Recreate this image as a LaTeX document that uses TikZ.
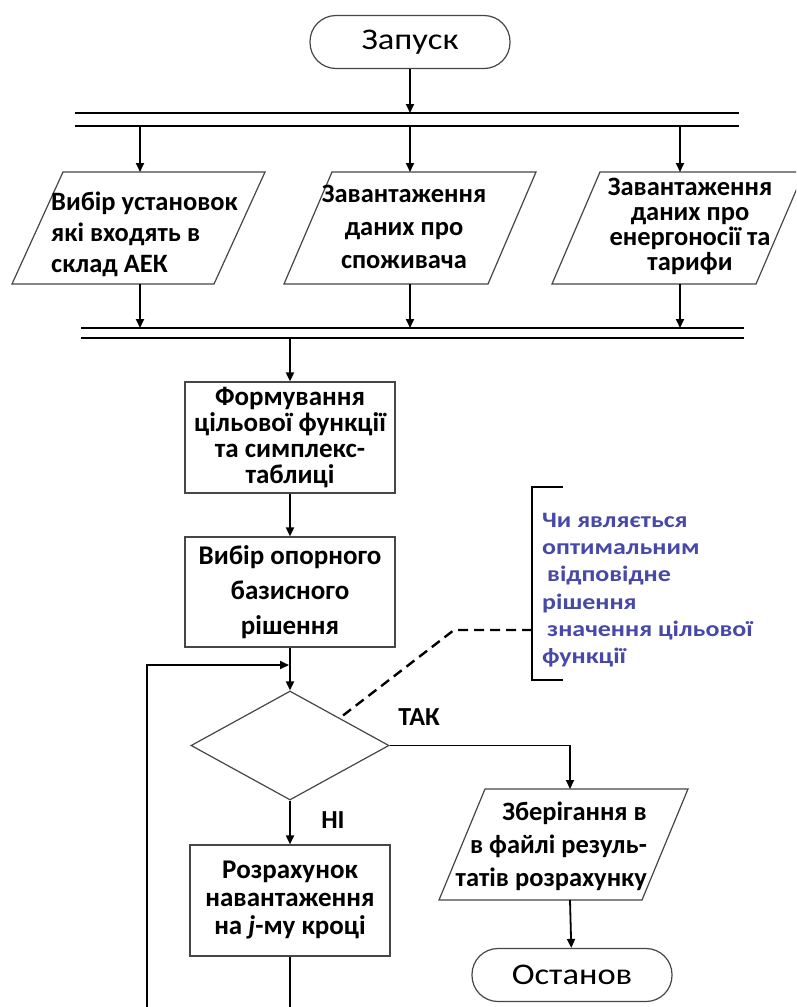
\documentclass[tikz,border=0pt]{standalone}
\usepackage{fontspec}
\setmainfont{Carlito}
\newfontfamily\termfont{Carlito}[FakeStretch=1.15]
\newfontfamily\annfont{Carlito}[FakeStretch=1.18]
\usetikzlibrary{arrows.meta,shapes.geometric}
\definecolor{annblue}{RGB}{72,72,168}
\definecolor{edgegray}{RGB}{70,70,70}
\begin{document}
\begin{tikzpicture}[x=1pt,y=-1pt,
  conn/.style={line width=1.8pt,-{Triangle[length=9pt,width=8pt]}},
  plain/.style={line width=1.8pt},
  barline/.style={line width=2.8pt},
  shapeedge/.style={draw=edgegray,line width=1.2pt},
  term/.style={shapeedge,rounded corners=26pt,minimum width=200pt,minimum height=53pt,inner sep=0pt,font=\termfont\fontsize{30}{34}\selectfont},
  procbox/.style={shapeedge,inner sep=0pt,align=center,font=\fontsize{27}{26}\selectfont\bfseries},
  ptext/.style={inner sep=0pt,font=\fontsize{26.5}{31}\selectfont\bfseries},
  decision/.style={shapeedge,diamond,aspect=1.82,minimum width=198pt,minimum height=109pt,inner sep=0pt},
  lbl/.style={inner sep=0pt,font=\fontsize{26}{28}\selectfont\bfseries},
  ann/.style={inner sep=0pt,align=left,text=annblue,font=\annfont\fontsize{22}{27.2}\selectfont\bfseries},
  brk/.style={line width=2.2pt},
  dashline/.style={line width=2.4pt,dash pattern=on 10pt off 6pt}
]
\useasboundingbox (0,0) rectangle (796,1007);
\clip (0,0) rectangle (796,1007);
\fill[white] (0,0) rectangle (796,1007);

% start
\node[term] (start) at (410,42) {Запуск};

% top double bar
\coordinate (b1a) at (410,113);
\coordinate (b1l) at (140,126);
\coordinate (b1m) at (410,126);
\coordinate (b1r) at (680,126);
\draw[barline] (75,113) -- (739,113);
\draw[barline] (75,126) -- (739,126);
\draw[conn] (start) -- (b1a);

% parallelograms
\draw[shapeedge] (63,172) -- (265,172) -- (214,284) -- (12,284) -- cycle;
\draw[shapeedge] (332,172) -- (536,172) -- (488,284) -- (284,284) -- cycle;
\draw[shapeedge] (600,172) -- (804,172) -- (756,284) -- (552,284) -- cycle;
\coordinate (p1n) at (140,172); \coordinate (p1s) at (140,284);
\coordinate (p2n) at (410,172); \coordinate (p2s) at (410,284);
\coordinate (p3n) at (680,172); \coordinate (p3s) at (680,284);
\node[ptext,align=left,anchor=west] (p1) at (51,234) {Вибір установок\\які входять в\\склад АЕК};
\node[ptext,align=center,font=\fontsize{26.5}{33}\selectfont\bfseries] (p2) at (404,227) {Завантаження\\даних про\\споживача};
\node[ptext,align=center,font=\fontsize{26.5}{25}\selectfont\bfseries] (p3) at (690,226) {Завантаження\\даних про\\енергоносії та\\тарифи};
\draw[conn] (b1l) -- (p1n);
\draw[conn] (b1m) -- (p2n);
\draw[conn] (b1r) -- (p3n);

% second double bar
\coordinate (b2l) at (140,328);
\coordinate (b2m) at (410,328);
\coordinate (b2r) at (680,328);
\coordinate (b2o) at (290,338);
\draw[barline] (81,328) -- (744,328);
\draw[barline] (81,338) -- (744,338);
\draw[conn] (p1s) -- (b2l);
\draw[conn] (p2s) -- (b2m);
\draw[conn] (p3s) -- (b2r);

% process boxes
\node[procbox,minimum width=210pt,minimum height=111pt] (r1) at (290,437.5) {Формування\\цільової функції\\та симплекс-\\таблиці};
\node[procbox,minimum width=210pt,minimum height=110pt,font=\fontsize{27}{35}\selectfont\bfseries] (r2) at (290,592) {Вибір опорного\\базисного\\рішення};
\draw[conn] (b2o) -- (r1);
\draw[conn] (r1) -- (r2);

% decision
\node[decision] (dec) at (290,745.5) {};
\draw[conn] (r2) -- (dec);

% loop back
\coordinate (loopbot) at (147,1012);
\coordinate (loopin) at (147,665);
\coordinate (loopend) at (289,665);
\draw[conn] (loopbot) -- (loopin) -- (loopend);

% yes branch
\node[lbl] (yes) at (419,717) {ТАК};
\draw[shapeedge] (485,789) -- (688,789) -- (642,900) -- (439,900) -- cycle;
\coordinate (p4n) at (570,789);
\coordinate (p4s) at (570,900);
\node[ptext,align=right,anchor=east,font=\fontsize{26.5}{33}\selectfont\bfseries] (p4) at (647,846) {Зберігання в\\в файлі резуль-\\татів розрахунку};
\draw[conn] (dec.east) -| (p4n);
\node[term] (stop) at (572,975) {Останов};
\draw[conn] (p4s) -- (stop);

% no branch
\node[lbl] (no) at (333,820) {НІ};
\node[procbox,minimum width=200pt,minimum height=111pt,font=\fontsize{27}{28}\selectfont\bfseries] (r3) at (290,900.5) {Розрахунок\\навантаження\\на \textit{j}-му кроці};
\draw[conn] (dec.south) -- (r3);
\coordinate (r3bot) at (290,1012);
\draw[plain] (r3) -- (r3bot);

% annotation
\coordinate (bt) at (563,487);
\coordinate (btl) at (532,487);
\coordinate (bbl) at (532,680);
\coordinate (bb) at (563,680);
\coordinate (bmid) at (532,630);
\coordinate (dk) at (454,630);
\draw[brk] (bt) -- (btl) -- (bbl) -- (bb);
\node[ann,anchor=north west] (annt) at (542,513) {Чи являється\\оптимальним\\\hspace{5pt}відповідне\\рішення\\\hspace{5pt}значення цільової\\функції};
\draw[dashline] (bmid) -- (dk) -- (dec.north east);
\end{tikzpicture}
\end{document}
